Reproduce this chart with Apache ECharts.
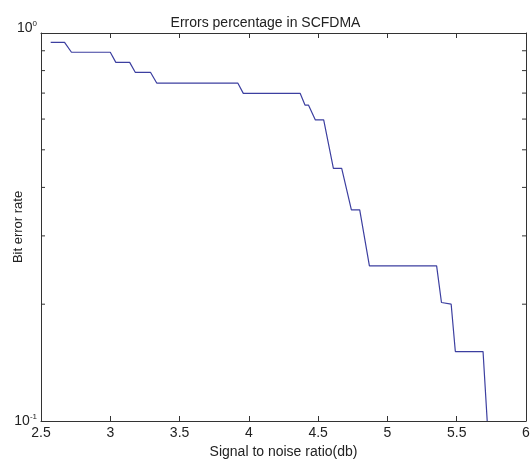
<!DOCTYPE html>
<html>
<head>
<meta charset="utf-8">
<script src="https://cdn.jsdelivr.net/npm/echarts@6/dist/echarts.min.js"></script>
<style>
html,body{margin:0;padding:0;background:#fff;}
#chart{width:531px;height:459px;}
</style>
</head>
<body>
<div id="chart"></div>
<script>
// Data (stair-like BER curve)
const snrValues = [2.57, 2.67, 2.72, 3.00, 3.04, 3.14, 3.18, 3.29, 3.335, 3.92, 3.96, 4.37, 4.405, 4.43, 4.48, 4.54, 4.61, 4.67, 4.74, 4.80, 4.87, 5.355, 5.39, 5.46, 5.49, 5.69, 5.72];
const berValues = [0.946, 0.946, 0.892, 0.892, 0.840, 0.840, 0.792, 0.792, 0.743, 0.743, 0.699, 0.699, 0.652, 0.652, 0.597, 0.597, 0.448, 0.448, 0.350, 0.350, 0.251, 0.251, 0.202, 0.200, 0.151, 0.151, 0.100];
const xTickLabels = ['2.5', '3', '3.5', '4', '4.5', '5', '5.5', '6'];
const yMinorTicks = [0.2, 0.3, 0.4, 0.5, 0.6, 0.7, 0.8, 0.9];
const xMin = 2.5, xMax = 6, xStep = 0.5;
const yMin = 0.1, yMax = 1;

const FONT = 'Liberation Sans';
const TXT = '#222';
const AX = '#333';

const chart = echarts.init(document.getElementById('chart'), null, {renderer: 'canvas'});

const axisCommon = {
  axisLine: {show: true, lineStyle: {color: AX, width: 1}},
  axisTick: {show: true, inside: true, length: 5, lineStyle: {color: AX}},
  splitLine: {show: false},
  minorTick: {show: false}
};

chart.setOption({
  backgroundColor: '#fff',
  animation: false,
  title: {
    text: 'Errors percentage in SCFDMA',
    left: 'center',
    top: 11,
    textStyle: {fontFamily: FONT, fontSize: 14, fontWeight: 'normal', color: TXT}
  },
  grid: {left: 41, right: 5, top: 33, bottom: 38, outerBoundsMode: 'none', containLabel: false},
  xAxis: [
    Object.assign({
      type: 'value', min: xMin, max: xMax, interval: xStep, position: 'bottom',
      name: 'Signal to noise ratio(db)', nameLocation: 'middle', nameGap: 22,
      nameTextStyle: {fontFamily: FONT, fontSize: 14, color: TXT},
      axisLabel: {
        margin: 5, fontFamily: FONT, fontSize: 14, color: TXT,
        formatter: function (v) { const i = Math.round((v - xMin) / xStep); return xTickLabels[i] !== undefined ? xTickLabels[i] : ''; }
      }
    }, axisCommon),
    Object.assign({
      type: 'value', min: xMin, max: xMax, interval: xStep, position: 'top',
      axisLabel: {show: false}
    }, axisCommon)
  ],
  yAxis: [
    Object.assign({
      type: 'log', logBase: 10, min: yMin, max: yMax, position: 'left',
      name: 'Bit error rate', nameLocation: 'middle', nameGap: 16,
      nameMoveOverlap: false,
      nameTextStyle: {fontFamily: FONT, fontSize: 13, color: TXT},
      axisLabel: {
        margin: 4, fontFamily: FONT, color: TXT,
        formatter: function (v) {
          const e = Math.round(Math.log10(v));
          return e === 0 ? '{bt|10}{st|0}' : '{b|10}{s|' + e + '}';
        },
        rich: {
          b: {fontFamily: FONT, fontSize: 14, color: TXT},
          s: {fontFamily: FONT, fontSize: 8, color: TXT, padding: [0, 0, 9, 0]},
          bt: {fontFamily: FONT, fontSize: 14, color: TXT, padding: [0, 0, 10, 0]},
          st: {fontFamily: FONT, fontSize: 8, color: TXT, padding: [0, 0, 19, 0]}
        }
      }
    }, axisCommon),
    Object.assign({
      type: 'log', logBase: 10, min: yMin, max: yMax, position: 'right',
      axisLabel: {show: false}
    }, axisCommon)
  ],
  series: [
    {
      type: 'line',
      xAxisIndex: 0, yAxisIndex: 0,
      data: snrValues.map((x, i) => [x, berValues[i]]),
      showSymbol: false,
      lineStyle: {color: '#3c3fa0', width: 1.2},
      clip: true,
      z: 3
    },
    {
      // minor log ticks on left and right axes, positioned through the y scale
      type: 'custom',
      xAxisIndex: 0, yAxisIndex: 0,
      data: yMinorTicks.map(v => [xMin, v]),
      renderItem: function (params, api) {
        const cs = params.coordSys;
        const y = api.coord([xMin, api.value(1)])[1];
        const left = cs.x, right = cs.x + cs.width;
        return {
          type: 'group',
          children: [
            {type: 'line', shape: {x1: left, y1: y, x2: left + 4, y2: y}, style: {stroke: AX, lineWidth: 1}},
            {type: 'line', shape: {x1: right - 4, y1: y, x2: right, y2: y}, style: {stroke: AX, lineWidth: 1}}
          ]
        };
      },
      silent: true,
      z: 2
    }
  ]
});
</script>
</body>
</html>
